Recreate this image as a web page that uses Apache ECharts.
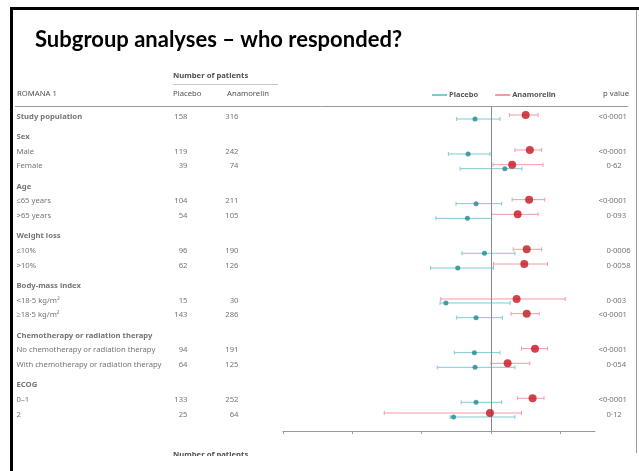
<!DOCTYPE html>
<html>
<head>
<meta charset="utf-8">
<script src="https://cdn.jsdelivr.net/npm/echarts@6/dist/echarts.min.js"></script>
<style>
  html, body { margin: 0; padding: 0; background: #fff; }
  #chart { width: 639px; height: 471px; }
</style>
</head>
<body>
<div id="chart"></div>
<script>
// ROMANA 1 subgroups: change in lean body mass (kg), mean and 95% CI
const rowLabels = [
  'Study population',
  'Sex', 'Male', 'Female',
  'Age', '\u226465 years', '>65 years',
  'Weight loss', '\u226410%', '>10%',
  'Body-mass index', '<18\u00b75 kg/m\u00b2', '\u226518\u00b75 kg/m\u00b2',
  'Chemotherapy or radiation therapy', 'No chemotherapy or radiation therapy', 'With chemotherapy or radiation therapy',
  'ECOG', '0\u20131', '2'
];
const nPlacebo    = [158, null, 119, 39, null, 104, 54, null, 96, 62, null, 15, 143, null, 94, 64, null, 133, 25];
const nAnamorelin = [316, null, 242, 74, null, 211, 105, null, 190, 126, null, 30, 286, null, 191, 125, null, 252, 64];

const placeboChange = [-0.46, null, -0.66, 0.40, null, -0.43, -0.68, null, -0.19, -0.96, null, -1.30, -0.43, null, -0.48, -0.46, null, -0.43, -1.08];
const placeboLow    = [-0.99, null, -1.23, -0.89, null, -1.01, -1.59, null, -0.84, -1.74, null, -1.47, -0.99, null, -1.06, -1.55, null, -0.86, -1.18];
const placeboHigh   = [0.26, null, -0.03, 0.89, null, 0.31, 0.02, null, 0.69, 0.07, null, 0.55, 0.33, null, 0.26, 0.69, null, 0.31, 0.69];

const anamorelinChange = [1.00, null, 1.12, 0.61, null, 1.10, 0.77, null, 1.03, 0.96, null, 0.74, 1.03, null, 1.27, 0.48, null, 1.20, -0.03];
const anamorelinLow    = [0.53, null, 0.69, 0.06, null, 0.61, 0.02, null, 0.64, 0.07, null, -1.45, 0.58, null, 0.88, 0.00, null, 0.76, -3.08];
const anamorelinHigh   = [1.36, null, 1.46, 1.50, null, 1.55, 1.36, null, 1.46, 1.63, null, 2.14, 1.39, null, 1.63, 1.12, null, 1.53, 0.88];

const pValues = ['<0\u00b70001', null, '<0\u00b70001', '0\u00b762', null, '<0\u00b70001', '0\u00b7093', null, '0\u00b70006', '0\u00b70058', null, '0\u00b7003', '<0\u00b70001', null, '<0\u00b70001', '0\u00b7054', null, '<0\u00b70001', '0\u00b712'];

const xTicks = [-6, -4, -2, 0, 2];

// layout
const FONT = 'Noto Sans';
const TEXT_SIZE = 7.7;
const TEXT_COLOR = '#505050';
const GROUP_GAP = 0.38;
const PLOT_TOP = 106, PLOT_BOTTOM = 431;
const Y_MIN = -0.75, Y_MAX = 21.37;
const COL_LABEL = 17, COL_NP = 188, COL_NA = 239, COL_P = 607;
const PLACEBO_LINE = '#7fcad2', PLACEBO_DOT = '#1f8a90';
const ANA_LINE = '#f29aa3', ANA_DOT = '#c4151f';

// vertical position of every row; a group heading adds a small gap
const rowPos = [];
let groupCount = 0;
rowLabels.forEach((label, i) => {
  if (nPlacebo[i] == null) groupCount++;
  rowPos.push(i + groupCount * GROUP_GAP);
});
const isBold = rowLabels.map((l, i) => i === 0 || nPlacebo[i] == null);

function textColumn(x, values, align, boldFlags) {
  const data = [];
  values.forEach((v, i) => {
    if (v == null) return;
    const item = { value: [x, rowPos[i], String(v)] };
    if (boldFlags && boldFlags[i]) item.label = { fontWeight: 'bold' };
    data.push(item);
  });
  return {
    type: 'scatter', xAxisIndex: 0, yAxisIndex: 0, silent: true,
    symbolSize: 1, itemStyle: { color: 'rgba(0,0,0,0)' },
    label: {
      show: true, position: [0, 0], align: align, verticalAlign: 'middle',
      formatter: p => p.value[2],
      fontFamily: FONT, fontSize: TEXT_SIZE, color: TEXT_COLOR
    },
    data: data
  };
}

function pColumn() {
  const s = textColumn(COL_P, [], 'left');
  pValues.forEach((v, i) => {
    if (v == null) return;
    // the "<" sign hangs to the left of the number column
    s.data.push({ value: [COL_P, rowPos[i], v], label: { position: [v[0] === '<' ? -8 : 0, 0] } });
  });
  return s;
}

function ciSeries(name, low, high, dy, color) {
  const data = [];
  low.forEach((lo, i) => { if (lo != null) data.push([lo, rowPos[i], high[i]]); });
  return {
    name: name, type: 'custom', xAxisIndex: 1, yAxisIndex: 1, silent: true,
    encode: { x: [0, 2], y: 1 },
    renderItem: (params, api) => {
      const a = api.coord([api.value(0), api.value(1)]);
      const b = api.coord([api.value(2), api.value(1)]);
      const y = a[1] + dy;
      const st = { stroke: color, lineWidth: 1 };
      return {
        type: 'group', children: [
          { type: 'line', shape: { x1: a[0], y1: y, x2: b[0], y2: y }, style: st },
          { type: 'line', shape: { x1: a[0], y1: y - 2, x2: a[0], y2: y + 2 }, style: st },
          { type: 'line', shape: { x1: b[0], y1: y - 2, x2: b[0], y2: y + 2 }, style: st }
        ]
      };
    },
    data: data
  };
}

function pointSeries(name, est, dy, size, color) {
  const data = [];
  est.forEach((v, i) => { if (v != null) data.push([v, rowPos[i]]); });
  return {
    name: name, type: 'scatter', xAxisIndex: 1, yAxisIndex: 1, silent: true, z: 5,
    symbol: 'circle', symbolSize: size, symbolOffset: [0, dy],
    itemStyle: { color: color },
    data: data
  };
}

const yAxisBase = { type: 'value', inverse: true, min: Y_MIN, max: Y_MAX, show: false };
const smallText = (x, y, text, bold) => ({
  type: 'text', x: x, y: y, silent: true,
  style: { text: text, font: (bold ? 'bold ' : '') + TEXT_SIZE + 'px "' + FONT + '"', fill: TEXT_COLOR, verticalAlign: 'middle' }
});

const chart = echarts.init(document.getElementById('chart'), null, { renderer: 'canvas' });
chart.setOption({
  backgroundColor: '#fff',
  animation: false,
  grid: [
    { left: 0, right: 0, top: PLOT_TOP, bottom: 471 - PLOT_BOTTOM },
    { left: 283, width: 312, top: PLOT_TOP, bottom: 471 - PLOT_BOTTOM }
  ],
  xAxis: [
    { type: 'value', gridIndex: 0, min: 0, max: 639, show: false },
    {
      type: 'value', gridIndex: 1, min: -6, max: 3, position: 'bottom',
      axisLine: { show: true, onZero: false, lineStyle: { color: '#9a9a9a', width: 1 } },
      axisTick: { show: true, customValues: xTicks, length: 3, lineStyle: { color: '#9a9a9a' } },
      axisLabel: { show: false },
      splitLine: { show: false }
    }
  ],
  yAxis: [
    Object.assign({ gridIndex: 0 }, yAxisBase),
    Object.assign({ gridIndex: 1 }, yAxisBase)
  ],
  legend: {
    left: 427, top: 86, itemGap: 17, itemWidth: 15, itemHeight: 2, icon: 'rect',
    selectedMode: false,
    textStyle: { fontFamily: FONT, fontSize: 7.5, fontWeight: 'bold', color: '#555', padding: [0, 0, 0, -3] },
    data: [
      { name: 'Placebo', itemStyle: { color: PLACEBO_LINE } },
      { name: 'Anamorelin', itemStyle: { color: ANA_LINE } }
    ]
  },
  graphic: [
    // slide frame
    { type: 'rect', shape: { x: 10, y: 7, width: 629, height: 3 }, style: { fill: '#000' }, silent: true },
    { type: 'rect', shape: { x: 10, y: 7, width: 3, height: 464 }, style: { fill: '#000' }, silent: true },
    { type: 'line', shape: { x1: 636.5, y1: 10, x2: 636.5, y2: 453 }, style: { stroke: '#9a9a9a', lineWidth: 1 }, silent: true },
    {
      type: 'text', x: 35, y: 40, silent: true,
      style: { text: 'Subgroup analyses \u2013 who responded?', font: 'bold 22px Lato', fill: '#000', verticalAlign: 'middle' }
    },
    smallText(173, 76, 'Number of patients', true),
    { type: 'line', shape: { x1: 173, y1: 84.5, x2: 278, y2: 84.5 }, style: { stroke: '#c8c8c8', lineWidth: 1 }, silent: true },
    smallText(17, 94, 'ROMANA 1'),
    smallText(173, 94, 'Placebo'),
    smallText(227, 94, 'Anamorelin'),
    smallText(603, 94, 'p value'),
    { type: 'line', shape: { x1: 15, y1: 106.5, x2: 628, y2: 106.5 }, style: { stroke: '#9a9a9a', lineWidth: 1 }, silent: true },
    smallText(173, 455, 'Number of patients', true),
    { type: 'rect', shape: { x: 14, y: 456, width: 625, height: 15 }, style: { fill: '#fff' }, silent: true, z: 100 }
  ],
  series: [
    textColumn(COL_LABEL, rowLabels, 'left', isBold),
    textColumn(COL_NP, nPlacebo, 'right'),
    textColumn(COL_NA, nAnamorelin, 'right'),
    pColumn(),
    Object.assign(ciSeries('Placebo', placeboLow, placeboHigh, 2, PLACEBO_LINE), {
      markLine: {
        silent: true, symbol: 'none', label: { show: false },
        lineStyle: { color: '#8a8a8a', width: 1, type: 'solid' },
        data: [{ xAxis: 0 }]
      }
    }),
    ciSeries('Anamorelin', anamorelinLow, anamorelinHigh, -2, ANA_LINE),
    pointSeries('Placebo', placeboChange, 2, 5, PLACEBO_DOT),
    pointSeries('Anamorelin', anamorelinChange, -2, 8, ANA_DOT)
  ]
});
</script>
</body>
</html>
